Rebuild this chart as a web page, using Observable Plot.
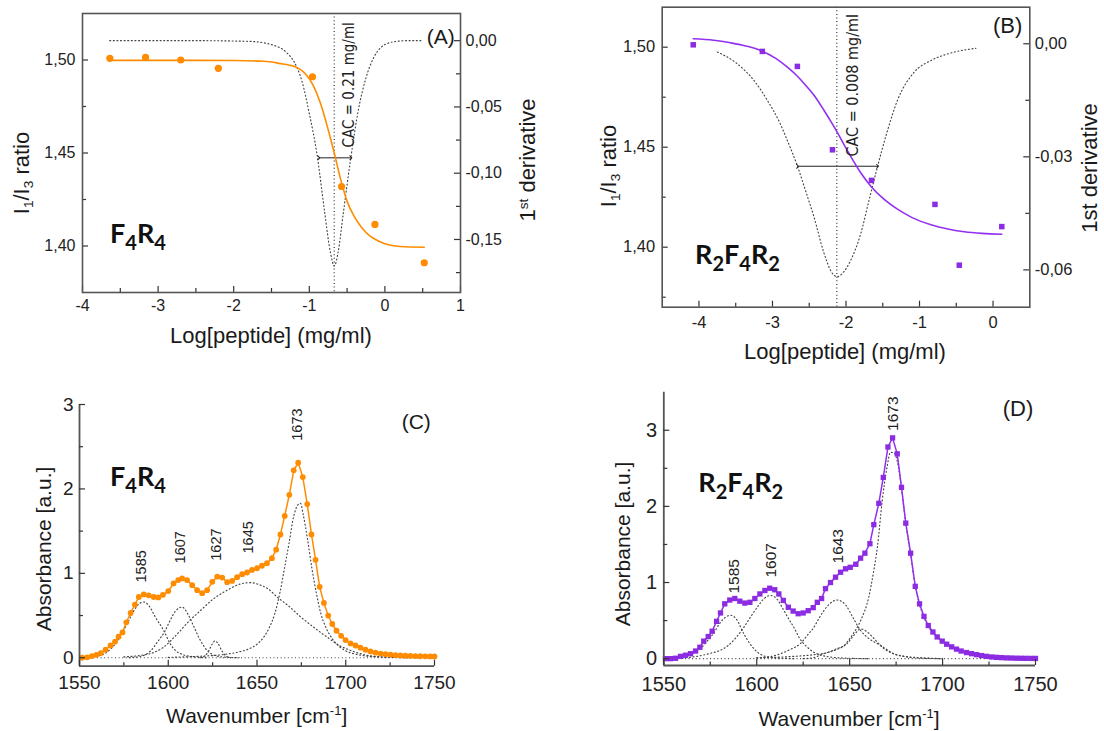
<!DOCTYPE html>
<html><head><meta charset="utf-8">
<script src="https://cdn.jsdelivr.net/npm/d3@7"></script>
<script src="https://cdn.jsdelivr.net/npm/@observablehq/plot@0.6"></script>
<style>
body{margin:0;background:#fff;}
#wrap{position:relative;width:1104px;height:731px;overflow:hidden;font-family:'Liberation Sans',Arial,sans-serif;color:#1a1a1a;background:#fff;}
.p{position:absolute;}
.p svg{display:block;}
.t{position:absolute;white-space:nowrap;line-height:1;}
.r{transform:translate(-50%,-50%) rotate(-90deg);}
.c{transform:translate(-50%,-50%);}
.t sub{font-size:0.62em;vertical-align:-0.28em;line-height:0;}
.t sup{font-size:0.62em;vertical-align:0.55em;line-height:0;}
.name{font-family:Lato,'Open Sans',sans-serif;font-weight:700;font-size:27px;color:#111;}
.name sub{font-size:20px;vertical-align:-6.7px;line-height:0;}
</style></head><body><div id="wrap"></div>
<script>
// ---------------- DATA ----------------
// Panel A : F4R4 pyrene I1/I3 ratio
const aLogConc = [-3.638, -3.166, -2.70, -2.203, -0.958, -0.573, -0.132, 0.521];
const aRatio   = [1.5009, 1.5014, 1.5000, 1.4955, 1.4910, 1.4320, 1.4116, 1.3910];
const aFitX = [-3.64, -2.5, -2.0, -1.6, -1.4, -1.2, -1.05, -0.95, -0.85, -0.75, -0.67, -0.58, -0.5, -0.4, -0.3, -0.2, -0.1, 0.0, 0.2, 0.52];
const aFitY = [1.4998, 1.4998, 1.4997, 1.4993, 1.4982, 1.4965, 1.4925, 1.4865, 1.4765, 1.4625, 1.4500, 1.4350, 1.4240, 1.4155, 1.4095, 1.4055, 1.4030, 1.4012, 1.3997, 1.3993];
const aDerivX = [-3.64, -2.5, -1.8, -1.5, -1.3, -1.2, -1.1, -1.0, -0.9, -0.8, -0.72, -0.67, -0.62, -0.55, -0.45, -0.35, -0.25, -0.15, -0.05, 0.1, 0.3, 0.5];
const aDerivY = [0, 0, -0.0005, -0.003, -0.009, -0.016, -0.03, -0.055, -0.085, -0.128, -0.160, -0.170, -0.160, -0.130, -0.088, -0.052, -0.028, -0.013, -0.005, -0.001, 0, 0];
const aCAC = -0.67, aCACLabel = "CAC = 0.21 mg/ml";
const aHalfWidth = [-0.874, -0.45], aHalfHeight = -0.0884;

// Panel B : R2F4R2
const bLogConc = [-4.078, -3.138, -2.661, -2.184, -1.653, -0.790, -0.459, 0.119];
const bRatio   = [1.5012, 1.4979, 1.4904, 1.4487, 1.4334, 1.4214, 1.3910, 1.4103];
const bFitX = [-4.078, -3.8, -3.57, -3.35, -3.138, -2.95, -2.797, -2.661, -2.55, -2.435, -2.3, -2.2, -2.12, -2.03, -1.93, -1.8, -1.662, -1.5, -1.3, -1.1, -0.845, -0.6, -0.39, -0.15, 0.119];
const bFitY = [1.5042, 1.5035, 1.5022, 1.5005, 1.4980, 1.4943, 1.4900, 1.4855, 1.4810, 1.4760, 1.4685, 1.4625, 1.4575, 1.4515, 1.4450, 1.4372, 1.4305, 1.4245, 1.4190, 1.4148, 1.4112, 1.4090, 1.4077, 1.4069, 1.4065];
const bDerivX = [-3.75, -3.5, -3.25, -3.07, -2.9, -2.797, -2.66, -2.55, -2.435, -2.3, -2.2, -2.12, -2.03, -1.95, -1.8, -1.68, -1.57, -1.45, -1.30, -1.07, -0.85, -0.617, -0.232];
const bDerivY = [-0.0022, -0.005, -0.0098, -0.015, -0.021, -0.0257, -0.0325, -0.039, -0.046, -0.0555, -0.0605, -0.0618, -0.0605, -0.058, -0.0504, -0.041, -0.0325, -0.024, -0.015, -0.0075, -0.0045, -0.0027, -0.0012];
const bCAC = -2.125, bCACLabel = "CAC = 0.008 mg/ml";
const bHalfWidth = [-2.66, -1.57], bHalfHeight = -0.0325;

// Panel C : F4R4 amide I band
const cWavenumber = [1551.5,1554.3,1557.0,1559.5,1562.0,1564.7,1567.5,1570.0,1572.0,1574.2,1576.4,1578.8,1581.2,1583.4,1586.2,1589.0,1591.8,1594.4,1597.0,1600.0,1603.0,1605.6,1607.8,1610.6,1613.5,1616.3,1619.1,1621.9,1624.8,1627.6,1630.4,1633.2,1636.0,1638.8,1641.6,1644.4,1647.2,1650.0,1652.8,1655.6,1658.4,1660.8,1663.2,1665.6,1668.2,1670.7,1673.2,1675.8,1678.3,1680.7,1683.0,1685.3,1687.7,1690.1,1692.4,1694.8,1697.4,1699.9,1702.7,1705.5,1708.3,1711.1,1713.9,1716.8,1719.6,1722.4,1725.2,1728.0,1730.8,1733.6,1736.4,1739.2,1742.0,1744.8,1747.6,1750.0];
const cAbsorbance = [0.00,0.005,0.02,0.035,0.055,0.095,0.145,0.19,0.25,0.30,0.42,0.53,0.63,0.72,0.75,0.74,0.72,0.715,0.745,0.79,0.88,0.92,0.94,0.92,0.86,0.80,0.765,0.80,0.90,0.96,0.95,0.895,0.91,0.955,0.99,1.01,1.04,1.06,1.09,1.12,1.18,1.28,1.46,1.68,1.93,2.22,2.31,2.14,1.82,1.46,1.16,0.84,0.65,0.50,0.40,0.32,0.26,0.21,0.17,0.145,0.12,0.095,0.075,0.06,0.05,0.042,0.036,0.031,0.027,0.024,0.022,0.02,0.018,0.017,0.016,0.015];
const cBand1585 = [[1555,0.005],[1560,0.02],[1565,0.06],[1570,0.16],[1574,0.29],[1578,0.45],[1581,0.57],[1584,0.645],[1586.2,0.66],[1589,0.62],[1592.8,0.48],[1597.5,0.32],[1601,0.17],[1604,0.087],[1608,0.04],[1614,0.012],[1622,0]];
const cBand1607 = [[1578,0],[1585,0.02],[1590,0.08],[1594,0.19],[1598,0.31],[1601,0.44],[1604,0.55],[1607.8,0.60],[1611,0.52],[1614,0.39],[1617,0.25],[1620,0.14],[1624,0.05],[1630,0.01],[1640,0]];
const cBand1627 = [[1618,0],[1621,0.03],[1623,0.09],[1625,0.17],[1626.3,0.2],[1628,0.17],[1630,0.09],[1632,0.03],[1635,0]];
const cBand1645 = [[1575,0.01],[1585,0.03],[1590,0.05],[1597,0.12],[1605,0.28],[1612,0.44],[1618.2,0.56],[1625,0.69],[1633.2,0.80],[1640,0.87],[1646,0.89],[1652,0.86],[1656,0.82],[1661.3,0.72],[1668,0.61],[1674.8,0.48],[1682,0.36],[1689.8,0.24],[1696,0.15],[1702.7,0.087],[1711.8,0.03],[1720,0.01],[1735,0]];
const cBand1673 = [[1600,0.005],[1620,0.02],[1630,0.035],[1640,0.07],[1646,0.11],[1650,0.16],[1654,0.25],[1657,0.36],[1660,0.52],[1663,0.78],[1666,1.12],[1668,1.35],[1670.5,1.66],[1673,1.81],[1674.5,1.83],[1676,1.70],[1678.5,1.40],[1681,1.05],[1683.5,0.76],[1686,0.52],[1688.6,0.37],[1693.3,0.2],[1698.9,0.095],[1706,0.04],[1717,0.012],[1730,0.004],[1750,0]];
const cPeakLabels = [1585, 1607, 1627, 1645, 1673];

// Panel D : R2F4R2 amide I band
const dWavenumber = [1550.9,1553.6,1556.3,1559.0,1561.7,1564.4,1567.1,1569.4,1571.5,1573.9,1576.0,1578.4,1580.5,1582.8,1585.5,1588.2,1590.9,1593.6,1596.3,1599.0,1601.7,1604.4,1607.0,1609.7,1611.9,1614.3,1617.0,1619.6,1622.3,1625.0,1627.7,1630.4,1632.6,1634.9,1637.0,1639.7,1642.4,1645.1,1647.8,1650.3,1653.3,1655.9,1658.2,1660.9,1663.0,1665.7,1668.1,1670.6,1673.1,1675.6,1677.9,1680.2,1682.8,1685.3,1687.6,1690.0,1692.3,1694.8,1697.1,1699.8,1702.2,1704.9,1707.5,1710.0,1712.9,1715.6,1718.3,1721.0,1723.6,1726.4,1729.0,1731.7,1734.4,1737.0,1739.7,1742.4,1745.0,1747.7,1750.0];
const dAbsorbance = [0.0,0.0,0.005,0.03,0.045,0.065,0.10,0.15,0.23,0.29,0.36,0.49,0.60,0.72,0.77,0.79,0.755,0.73,0.74,0.79,0.85,0.895,0.925,0.905,0.85,0.765,0.675,0.625,0.59,0.60,0.63,0.67,0.74,0.79,0.92,1.00,1.07,1.135,1.18,1.20,1.24,1.32,1.385,1.51,1.76,2.04,2.38,2.78,2.90,2.69,2.25,1.78,1.385,0.95,0.72,0.555,0.435,0.35,0.285,0.23,0.19,0.155,0.125,0.10,0.08,0.065,0.052,0.04,0.03,0.022,0.017,0.013,0.01,0.008,0.006,0.005,0.004,0.003,0.003];
const dBand1585 = [[1555,0.005],[1560,0.02],[1565,0.06],[1570,0.14],[1574,0.25],[1577,0.34],[1580,0.46],[1583,0.54],[1586,0.57],[1589,0.52],[1593,0.33],[1596.5,0.19],[1600.3,0.087],[1604,0.035],[1610,0.01],[1620,0]];
const dBand1607 = [[1560,0.01],[1565,0.02],[1570,0.04],[1575,0.07],[1580.5,0.11],[1585,0.18],[1589,0.28],[1593,0.41],[1597,0.56],[1601,0.70],[1604,0.79],[1607.4,0.83],[1611,0.78],[1614,0.66],[1617,0.53],[1620,0.41],[1623,0.27],[1627.2,0.15],[1631,0.08],[1634,0.05],[1640,0.02],[1650,0.005],[1660,0]];
const dBand1643 = [[1600,0.01],[1608,0.03],[1612.8,0.065],[1618,0.12],[1623.6,0.2],[1627,0.3],[1630.7,0.41],[1634,0.55],[1638,0.69],[1643.3,0.77],[1648,0.70],[1652,0.53],[1655.9,0.37],[1660,0.27],[1666.6,0.175],[1673.8,0.065],[1680,0.03],[1690,0.01],[1700,0]];
const dBand1656 = [[1625,0],[1630,0.01],[1636,0.065],[1643,0.12],[1648.7,0.2],[1652,0.3],[1656,0.39],[1660,0.34],[1664,0.24],[1668,0.14],[1673,0.07],[1680,0.025],[1690,0.005],[1700,0]];
const dBand1673 = [[1600,0.01],[1620,0.03],[1630,0.05],[1638,0.08],[1643,0.13],[1646.9,0.17],[1650.5,0.28],[1655.9,0.5],[1660.3,0.81],[1663,1.16],[1664.9,1.46],[1667.5,2.07],[1670,2.5],[1672,2.71],[1674,2.70],[1676,2.55],[1678,2.22],[1680.2,1.77],[1682.8,1.37],[1685.3,0.95],[1687.6,0.71],[1690,0.54],[1692.3,0.42],[1694.8,0.34],[1697.1,0.28],[1700,0.22],[1705,0.145],[1710,0.095],[1715,0.065],[1720,0.04],[1730,0.015],[1740,0.005],[1750,0]];
const dPeakLabels = [1585, 1607, 1643, 1673];

// tick values
const aXTicks = [-4,-3,-2,-1,0,1], aXMinor = [-3.5,-2.5,-1.5,-0.5,0.5];
const aYTicks = [1.40,1.45,1.50], aYMinor = [1.425,1.475];
const aRTicks = [0,-0.05,-0.10,-0.15], aRMinor = [-0.025,-0.075,-0.125,-0.175];
const bXTicks = [-4,-3,-2,-1,0], bXMinor = [-3.5,-2.5,-1.5,-0.5];
const bYTicks = [1.40,1.45,1.50], bYMinor = [1.375,1.425,1.475];
const bRTicks = [0,-0.03,-0.06], bRMinor = [-0.015,-0.045];
const wnTicks = [1550,1600,1650,1700,1750], wnMinor = [1575,1625,1675,1725];
const absTicks = [0,1,2,3], absMinor = [0.5,1.5,2.5];

// ---------------- STYLE / HELPERS ----------------
const orange = "#ff8c00", violet = "#8b2be2", violetLine = "#9330f0";
const dotted = {stroke: "#444", strokeWidth: 1.15, strokeDasharray: "1,2.6"};
const tickStroke = {stroke: "#333", strokeWidth: 1.2};
const FONT = "'Liberation Sans', Arial, sans-serif";
const NARROW = "'Liberation Sans Narrow','Arial Narrow','DejaVu Sans Condensed','Liberation Sans',sans-serif";
const wrap = document.getElementById("wrap");
const pairs = (xs, ys) => xs.slice(0, Math.min(xs.length, ys.length)).map((x, i) => ({x, y: ys[i]}));
const band = arr => arr.map(([x, y]) => ({x, y}));
const comma2 = d => d3.format(".2f")(d).replace(".", ",").replace("\u2212", "-");
const plain = d => String(d).replace("\u2212", "-");

function place(el, left, top) {
  const d = document.createElement("div");
  d.className = "p"; d.style.left = left + "px"; d.style.top = top + "px";
  d.appendChild(el); wrap.appendChild(d);
}
function html(cls, left, top, size, content) {
  const d = document.createElement("div");
  d.className = "t " + cls; d.style.left = left + "px"; d.style.top = top + "px";
  if (size) d.style.fontSize = size + "px";
  d.innerHTML = content; wrap.appendChild(d);
}
function dims(L) { return {fh: L.height - L.mt - L.mb, fw: L.width - L.ml - L.mr}; }
function base(L) {
  return {width: L.width, height: L.height, marginTop: L.mt, marginRight: L.mr, marginBottom: L.mb, marginLeft: L.ml,
    style: {background: "transparent", overflow: "visible", fontFamily: FONT, color: "#222"}};
}
const tX = (vals, len, fh) => Plot.tickX(vals, {x: d => d, insetTop: fh - len, ...tickStroke});
const tYL = (vals, len, fw) => Plot.tickY(vals, {y: d => d, insetRight: fw - len, ...tickStroke});
const tYR = (vals, len, fw) => Plot.tickY(vals, {y: d => d, insetLeft: fw - len, ...tickStroke});

// ---------------- PANEL A ----------------
{
  const L = {width: 560, height: 360, mt: 13, mr: 100, mb: 68, ml: 82};
  const {fh, fw} = dims(L);
  const deriv = Plot.plot({...base(L),
    x: {domain: [-4, 1], axis: null, label: null},
    y: {domain: [-0.19, 0.0205], label: null},
    marks: [
      Plot.line(pairs(aDerivX, aDerivY), {x: "x", y: "y", curve: "monotone-x", ...dotted}),
      Plot.link([0], {x1: () => aHalfWidth[0], x2: () => aHalfWidth[1], y1: () => aHalfHeight, y2: () => aHalfHeight,
        stroke: "#222", strokeWidth: 1, markerStart: "arrow", markerEnd: "arrow"}),
      tYR(aRTicks, 6, fw), tYR(aRMinor, 4, fw),
      Plot.axisY({ticks: aRTicks, anchor: "right", tickSize: 0, tickPadding: 5, fontSize: 16, tickFormat: comma2, label: null})
    ]});
  place(deriv, 0, 0);
  const ratio = Plot.plot({...base(L),
    x: {domain: [-4, 1], label: null},
    y: {domain: [1.375, 1.525], label: null},
    marks: [
      Plot.ruleX([aCAC], {x: d => d, ...dotted, strokeWidth: 1.3}),
      Plot.line(pairs(aFitX, aFitY), {x: "x", y: "y", stroke: orange, strokeWidth: 1.6, curve: "monotone-x"}),
      Plot.dot(pairs(aLogConc, aRatio), {x: "x", y: "y", r: 3.6, fill: orange}),
      tX(aXTicks, 6, fh), tX(aXMinor, 4, fh), tYL(aYTicks, 6, fw), tYL(aYMinor, 4, fw),
      Plot.axisX({ticks: aXTicks, tickSize: 0, tickPadding: 7, fontSize: 16, tickFormat: plain, label: null}),
      Plot.axisY({ticks: aYTicks, tickSize: 0, tickPadding: 7, fontSize: 16, tickFormat: comma2, label: null}),
      Plot.frame({stroke: "#555", strokeWidth: 1.6}),
      Plot.text([aCAC], {x: d => d, text: () => aCACLabel, frameAnchor: "top", dx: 9.5, dy: 8.7, rotate: -90,
        textAnchor: "end", fontSize: 15, fontFamily: NARROW, fill: "#222"})
    ]});
  place(ratio, 0, 0);
  html("", 426.7, 25.7, 21, "(A)");
  html("name", 110, 219.3, 0, "F<sub>4</sub>R<sub>4</sub>");
  html("r", 21.7, 172.5, 22, "I<sub>1</sub>/I<sub>3</sub> ratio");
  html("r", 528, 160, 22, "1<sup>st</sup> derivative");
  html("c", 271, 336, 22, "Log[peptide] (mg/ml)");
}

// ---------------- PANEL B ----------------
{
  const L = {width: 524, height: 380, mt: 6.7, mr: 74.7, mb: 73.3, ml: 81.7};
  const {fh, fw} = dims(L);
  const deriv = Plot.plot({...base(L),
    x: {domain: [-4.5, 0.5], axis: null, label: null},
    y: {domain: [-0.0699, 0.0097], label: null},
    marks: [
      Plot.line(pairs(bDerivX, bDerivY), {x: "x", y: "y", curve: "monotone-x", ...dotted}),
      Plot.link([0], {x1: () => bHalfWidth[0], x2: () => bHalfWidth[1], y1: () => bHalfHeight, y2: () => bHalfHeight,
        stroke: "#222", strokeWidth: 1, markerStart: "arrow", markerEnd: "arrow"}),
      tYR(bRTicks, 6, fw), tYR(bRMinor, 4, fw),
      Plot.axisY({ticks: bRTicks, anchor: "right", tickSize: 0, tickPadding: 5, fontSize: 16.5, tickFormat: comma2, label: null})
    ]});
  place(deriv, 580, 0);
  const ratio = Plot.plot({...base(L),
    x: {domain: [-4.5, 0.5], label: null},
    y: {domain: [1.37, 1.52], label: null},
    marks: [
      Plot.ruleX([bCAC], {x: d => d, ...dotted, strokeWidth: 1.3}),
      Plot.line(pairs(bFitX, bFitY), {x: "x", y: "y", stroke: violetLine, strokeWidth: 1.6, curve: "monotone-x"}),
      Plot.dot(pairs(bLogConc, bRatio), {x: "x", y: "y", r: 3.1, symbol: "square", fill: violet}),
      tX(bXTicks, 6, fh), tX(bXMinor, 4, fh), tYL(bYTicks, 6, fw), tYL(bYMinor, 4, fw),
      Plot.axisX({ticks: bXTicks, tickSize: 0, tickPadding: 9, fontSize: 16.5, tickFormat: plain, label: null}),
      Plot.axisY({ticks: bYTicks, tickSize: 0, tickPadding: 7, fontSize: 16.5, tickFormat: comma2, label: null}),
      Plot.frame({stroke: "#555", strokeWidth: 1.6}),
      Plot.text([bCAC], {x: d => d, text: () => bCACLabel, frameAnchor: "top", dx: 9.8, dy: 6.7, rotate: -90,
        textAnchor: "end", fontSize: 16, fontFamily: NARROW, fill: "#222"})
    ]});
  place(ratio, 580, 0);
  html("", 993, 14.9, 22, "(B)");
  html("name", 695, 240, 0, "R<sub>2</sub>F<sub>4</sub>R<sub>2</sub>");
  html("r", 609.2, 165.8, 22, "I<sub>1</sub>/I<sub>3</sub> ratio");
  html("r", 1090, 168.3, 22, "1st derivative");
  html("c", 845, 351.7, 22, "Log[peptide] (mg/ml)");
}

// ---------------- PANEL C ----------------
{
  const L = {width: 450, height: 351, mt: 24, mr: 16, mb: 65.3, ml: 79};
  const {fh, fw} = dims(L);
  const spec = pairs(cWavenumber, cAbsorbance);
  const near = w => spec.reduce((a, b) => Math.abs(b.x - w) < Math.abs(a.x - w) ? b : a).y;
  const dyC = [-12, -15, -16, -19, -22];
  const plot = Plot.plot({...base(L),
    x: {domain: [1550, 1750], label: null},
    y: {domain: [-0.1, 3], label: null},
    marks: [
      Plot.ruleY([0], {y: d => d, ...dotted}),
      ...[cBand1585, cBand1607, cBand1627, cBand1645, cBand1673].map(b =>
        Plot.line(band(b), {x: "x", y: "y", curve: "monotone-x", ...dotted})),
      Plot.line(spec, {x: "x", y: "y", stroke: orange, strokeWidth: 1.5}),
      Plot.dot(spec, {x: "x", y: "y", r: 2.9, fill: orange}),
      ...cPeakLabels.map((p, i) => Plot.text([p], {x: d => d, y: d => near(d), text: d => String(d), dy: dyC[i],
        rotate: -90, textAnchor: "start", fontSize: 14.5, fill: "#222"})),
      Plot.ruleX([1550], {x: d => d, stroke: "#555", strokeWidth: 1.8}),
      Plot.ruleY([-0.1], {y: d => d, stroke: "#555", strokeWidth: 1.8}),
      tX(wnTicks, 6, fh), tX(wnMinor, 3.5, fh), tYL(absTicks, 6, fw), tYL(absMinor, 4, fw),
      Plot.axisX({ticks: wnTicks, tickSize: 0, tickPadding: 9.5, fontSize: 19, tickFormat: plain, label: null}),
      Plot.axisY({ticks: absTicks, tickSize: 0, tickPadding: 6, fontSize: 19, tickFormat: plain, label: null})
    ]});
  place(plot, 0, 380);
  html("", 401.7, 410.7, 21, "(C)");
  html("name", 110, 462, 0, "F<sub>4</sub>R<sub>4</sub>");
  html("r", 43.3, 549.2, 21, "Absorbance [a.u.]");
  html("c", 256.7, 715, 21, "Wavenumber [cm<sup>-1</sup>]");
}

// ---------------- PANEL D ----------------
{
  const L = {width: 500, height: 351, mt: 11.7, mr: 25, mb: 66, ml: 103.3};
  const {fh, fw} = dims(L);
  const spec = pairs(dWavenumber, dAbsorbance);
  const near = w => spec.reduce((a, b) => Math.abs(b.x - w) < Math.abs(a.x - w) ? b : a).y;
  const dyD = [-6.5, -10.7, -13.7, -7], dxD = [4.7, 0.8, 0.9, 0.2];
  const plot = Plot.plot({...base(L),
    x: {domain: [1550, 1750], label: null},
    y: {domain: [-0.09, 3.5], label: null},
    marks: [
      Plot.ruleY([0], {y: d => d, ...dotted}),
      ...[dBand1585, dBand1607, dBand1643, dBand1656, dBand1673].map(b =>
        Plot.line(band(b), {x: "x", y: "y", curve: "monotone-x", ...dotted})),
      Plot.line(spec, {x: "x", y: "y", stroke: violetLine, strokeWidth: 1.5}),
      Plot.dot(spec, {x: "x", y: "y", r: 3.0, symbol: "square", fill: violet}),
      ...dPeakLabels.map((p, i) => Plot.text([p], {x: d => d, y: d => near(d), text: d => String(d), dy: dyD[i], dx: dxD[i],
        rotate: -90, textAnchor: "start", fontSize: 15.5, fill: "#222"})),
      Plot.ruleX([1550], {x: d => d, stroke: "#555", strokeWidth: 1.8}),
      Plot.ruleY([-0.09], {y: d => d, stroke: "#555", strokeWidth: 1.8}),
      tX(wnTicks, 6, fh), tX(wnMinor, 3.5, fh), tYL(absTicks, 6, fw), tYL(absMinor, 4, fw),
      Plot.axisX({ticks: wnTicks, tickSize: 0, tickPadding: 11, fontSize: 20, tickFormat: plain, label: null}),
      Plot.axisY({ticks: absTicks, tickSize: 0, tickPadding: 6.6, fontSize: 20, tickFormat: plain, label: null})
    ]});
  place(plot, 560, 380);
  html("", 1002.7, 398.1, 22, "(D)");
  html("name", 698.3, 467.7, 0, "R<sub>2</sub>F<sub>4</sub>R<sub>2</sub>");
  html("r", 621.7, 544.2, 21, "Absorbance [a.u.]");
  html("c", 849, 717.5, 21, "Wavenumber [cm<sup>-1</sup>]");
}
</script></body></html>
